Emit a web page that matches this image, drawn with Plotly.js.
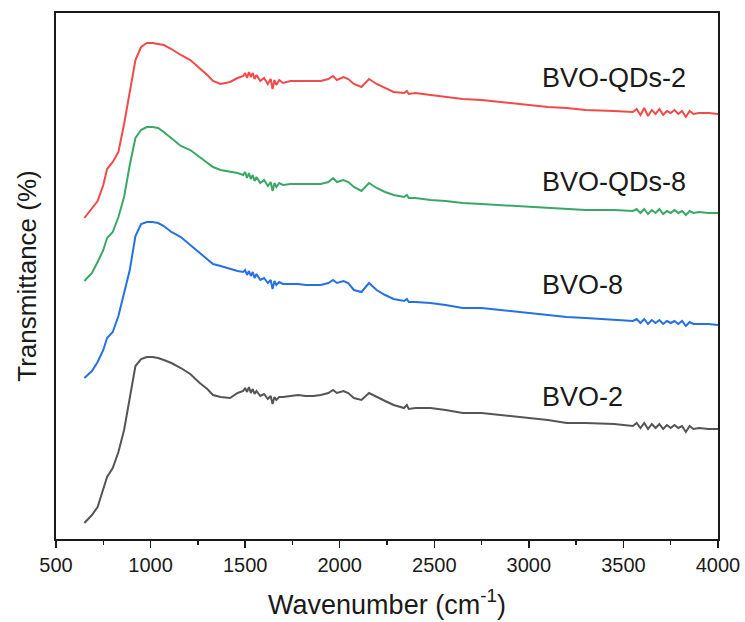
<!DOCTYPE html>
<html>
<head>
<meta charset="utf-8">
<script src="https://cdn.plot.ly/plotly-3.0.1.min.js"></script>
<style>html,body{margin:0;padding:0;background:#fff;}#chart{width:745px;height:622px;}</style>
</head>
<body>
<div id="chart"></div>
<script>
// Wavenumber grid (cm^-1)
const wavenumber = [650,690,720,750,770,800,830,860,890,920,950,980,1010,1040,1070,1110,1160,1210,1260,1300,1330,1370,1420,1460,1490,1500,1510,1520,1530,1540,1550,1560,1580,1600,1620,1635,1645,1655,1665,1680,1700,1740,1780,1820,1860,1900,1940,1965,1985,2020,2045,2075,2115,2155,2195,2240,2285,2340,2355,2365,2400,2480,2560,2650,2750,2850,3000,3100,3200,3300,3450,3550,3570,3590,3610,3630,3650,3670,3690,3710,3730,3750,3770,3790,3810,3830,3850,3870,3900,3950,4000];

// Transmittance (arbitrary offset units)
const bvoQDs2 = [321,331,338,354,370,377,387,415,447,479,492,496,496,495,494,490,484,479,471,464,458,455,457,461,463,466,461,467,462,466,460,464,458,461,455,460,450,459,454,459,456,458,458,458,458,458,460,463,459,462,460,455,452,460,455,451,447,446,448,445,446,444,442,440,439,437,434,432,431,429,428,427,430,424,431,423,429,425,430,424,428,426,429,425,428,422,428,425,426,426,425];
const bvoQDs8 = [258,266,277,289,301,307,322,342,374,401,409,412,412,411,407,401,393,389,382,376,372,369,367,366,364,367,361,366,360,364,358,362,356,359,353,357,348,356,352,356,354,355,355,355,355,355,357,361,357,359,357,352,348,356,351,347,344,342,344,341,341,339,338,336,335,334,332,331,330,329,329,328,330,326,330,325,329,326,330,325,328,326,329,326,328,324,328,326,327,326,326];
const bvo8 = [161,168,177,189,201,207,223,245,269,303,315,317,317,316,313,307,302,294,286,280,275,273,270,268,267,269,264,268,263,267,261,265,259,261,256,259,250,258,254,257,255,255,255,254,254,254,256,259,256,258,256,249,247,256,249,244,240,238,240,237,237,236,234,231,231,229,226,224,222,221,219,218,220,216,220,215,219,216,219,215,218,216,218,215,218,213,217,215,215,215,214];
const bvo2 = [16,24,32,49,62,71,87,109,141,173,180,182,182,181,179,176,171,165,156,150,144,142,141,146,148,151,147,152,146,150,145,148,143,145,140,143,135,142,139,142,142,143,144,143,143,144,146,149,146,148,146,141,139,146,142,138,134,131,134,130,131,131,129,126,126,124,121,119,116,116,115,113,116,111,116,110,115,111,115,110,114,111,114,111,113,107,113,110,111,110,110];

const seriesNames = ["BVO-QDs-2","BVO-QDs-8","BVO-8","BVO-2"];
const seriesColors = ["#f24a4a","#3aa865","#2471e3","#555555"];
const seriesData = [bvoQDs2, bvoQDs8, bvo8, bvo2];
const labelY = [461, 357, 254, 142];

const xTicks = [500,1000,1500,2000,2500,3000,3500,4000];

const traces = seriesData.map((d,i)=>({
  x: wavenumber, y: d, type:'scatter', mode:'lines', name: seriesNames[i],
  line:{color: seriesColors[i], width:2}, showlegend:false, hoverinfo:'skip'
}));

const font = "Arial, 'Liberation Sans', sans-serif";
const annotations = seriesNames.map((n,i)=>({
  x: 3060, y: labelY[i], xref:'x', yref:'y', text:n, showarrow:false,
  xanchor:'left', yanchor:'middle', font:{family:font, size:27, color:'#1a1a1a'}
}));

const layout = {
  width:745, height:622,
  margin:{l:56, r:27, t:13, b:83},
  paper_bgcolor:'#fff', plot_bgcolor:'#fff',
  font:{family:font, color:'#1a1a1a'},
  xaxis:{
    range:[500,4000], tickvals:xTicks, ticks:'outside', ticklen:7, tickwidth:1.5, tickcolor:'#1a1a1a',
    showline:true, linewidth:1.8, linecolor:'#1a1a1a', mirror:true, showgrid:false, zeroline:false,
    tickfont:{family:font, size:20, color:'#1a1a1a'},
    minor:{dtick:250, tick0:250, ticks:'outside', ticklen:4, tickwidth:1.5, tickcolor:'#1a1a1a', showgrid:false},
    title:{text:'Wavenumber (cm<sup>-1</sup>)', font:{family:font, size:27, color:'#1a1a1a'}, standoff:20}
  },
  yaxis:{
    range:[0,526], showticklabels:false, ticks:'', showline:true, linewidth:1.8, linecolor:'#1a1a1a',
    mirror:true, showgrid:false, zeroline:false,
    title:{text:'Transmittance (%)', font:{family:font, size:26, color:'#1a1a1a'}, standoff:10}
  },
  annotations: annotations
};

Plotly.newPlot('chart', traces, layout, {displayModeBar:false, staticPlot:true});
</script>
</body>
</html>
